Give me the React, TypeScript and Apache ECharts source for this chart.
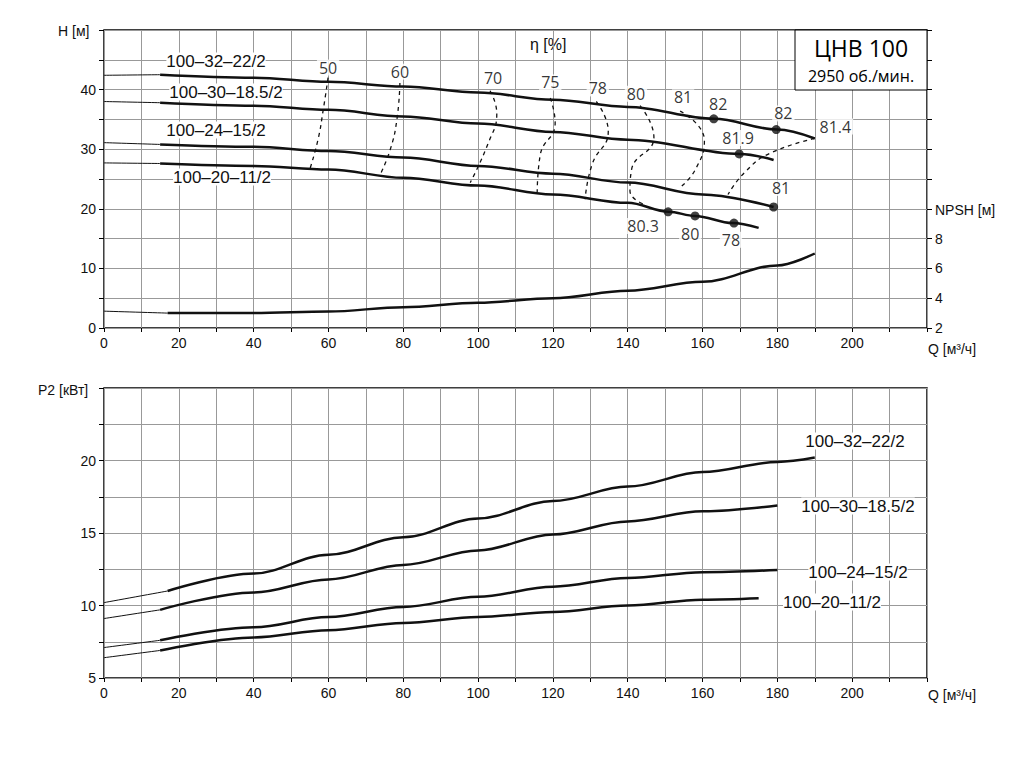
import * as echarts from "echarts";
import { useEffect, useRef } from "react";

// H(Q) curves, [Q, H]
const h22 = [[0, 42.4], [15, 42.5], [40, 42.0], [60, 41.3], [80, 40.5], [100, 39.5], [120, 38.3], [140, 37.1], [163, 35.1], [180, 33.3], [190, 31.8]];
const h18 = [[0, 38.0], [15, 37.8], [40, 37.3], [60, 36.6], [80, 35.5], [100, 34.3], [120, 32.9], [140, 31.6], [170, 29.2], [179, 28.2]];
const h15 = [[0, 31.1], [15, 30.8], [40, 30.4], [60, 29.7], [80, 28.6], [100, 27.2], [120, 25.9], [140, 24.4], [160, 22.4], [179, 20.3]];
const h11 = [[0, 27.7], [15, 27.6], [40, 27.2], [60, 26.6], [80, 25.2], [100, 23.9], [120, 22.4], [140, 21.0], [151, 19.5], [158, 18.8], [168, 17.6], [175, 16.8]];
const npsh = [[0, 3.13], [17, 3.0], [40, 3.0], [60, 3.1], [80, 3.4], [100, 3.7], [120, 4.0], [140, 4.5], [160, 5.1], [180, 6.2], [190, 7.0]];

// P2(Q) curves, [Q, P2]
const p22 = [[0, 10.2], [17, 11.0], [40, 12.2], [60, 13.5], [80, 14.7], [100, 16.0], [120, 17.2], [140, 18.2], [160, 19.2], [180, 19.9], [190, 20.2]];
const p18 = [[0, 9.1], [15, 9.7], [40, 10.9], [60, 11.8], [80, 12.8], [100, 13.8], [120, 14.9], [140, 15.8], [160, 16.5], [180, 16.9]];
const p15 = [[0, 7.1], [15, 7.6], [40, 8.5], [60, 9.2], [80, 9.9], [100, 10.6], [120, 11.3], [140, 11.9], [160, 12.3], [180, 12.45]];
const p11 = [[0, 6.4], [15, 6.9], [40, 7.8], [60, 8.3], [80, 8.8], [100, 9.2], [120, 9.55], [140, 10.0], [160, 10.4], [175, 10.5]];

// efficiency iso-lines, [Q, H]
const etaLines = [
  [[59.9, 42.0], [58.6, 36.6], [57.2, 31.6], [55.0, 26.6]],
  [[79.1, 41.1], [78.3, 35.0], [76.5, 29.9], [73.8, 25.7]],
  [[103.2, 39.8], [105.0, 36.0], [102.7, 31.0], [97.9, 24.4]],
  [[119.3, 38.6], [120.6, 34.4], [116.6, 29.0], [115.8, 22.8]],
  [[131.6, 38.0], [134.8, 33.0], [130.5, 27.5], [128.6, 21.6]],
  [[143.3, 37.3], [147.0, 32.0], [141.0, 26.5], [140.6, 23.0], [145.0, 20.6]],
  [[154.0, 36.4], [160.5, 31.5], [158.0, 26.5], [154.0, 23.6]],
  [[190.0, 31.8], [178.0, 29.3], [171.4, 26.2], [166.8, 22.4]],
];

// efficiency points on curves
const dots = [[163, 35.1], [179.7, 33.3], [169.8, 29.2], [179, 20.3], [150.8, 19.5], [158, 18.8], [168.4, 17.6]];

// efficiency labels [Q, H, text]
const etaLabels: [number, number, string][] = [
  [59.9, 43.7, "50"], [79.1, 43.0, "60"], [104, 42.0, "70"], [119.3, 41.2, "75"],
  [132, 40.2, "78"], [142.2, 39.3, "80"], [154.8, 38.7, "81"], [164.2, 37.6, "82"],
  [181.6, 36.0, "82"], [169.5, 31.9, "81.9"], [195.5, 33.8, "81.4"], [181, 23.5, "81"],
  [144.1, 17.1, "80.3"], [156.7, 15.8, "80"], [167.6, 14.8, "78"],
];

const FONT = "Liberation Sans";

const split = (d: number[][], s: number) => ({
  thin: d.filter((p) => p[0] <= s),
  thick: d.filter((p) => p[0] >= s),
});

const curve = (d: number[][], s: number, xi: number, yi: number) => {
  const { thin, thick } = split(d, s);
  const base = { type: "line", xAxisIndex: xi, yAxisIndex: yi, showSymbol: false, smooth: 0.35, smoothMonotone: "x", z: 3 };
  return [
    { ...base, data: thin, lineStyle: { color: "#111", width: 1 } },
    { ...base, data: thick, lineStyle: { color: "#111", width: 2.5 } },
  ];
};

const xAxis = (gi: number) => ({
  type: "value",
  gridIndex: gi,
  min: 0,
  max: 220,
  interval: 10,
  axisLine: { show: false },
  axisTick: { show: true, length: 4, lineStyle: { color: "#000" } },
  axisLabel: { fontFamily: FONT, fontSize: 14, color: "#111", formatter: (v: number) => (v % 20 === 0 && v <= 200 ? String(v) : "") },
  splitLine: { show: true, lineStyle: { color: "#999", width: 1 } },
});

export default function App() {
  const ref = useRef<HTMLDivElement>(null);

  useEffect(() => {
    const chart = echarts.init(ref.current!, null, { renderer: "svg" });
    const labelStyle = { fontFamily: FONT, fontSize: 17, fill: "#111", backgroundColor: "#fff" };
    chart.setOption({
      animation: false,
      grid: [
        { left: 104, right: 100, top: 30, height: 298, show: true, borderColor: "#000", borderWidth: 1.5 },
        { left: 104, right: 100, top: 388, height: 290, show: true, borderColor: "#000", borderWidth: 1.5 },
      ],
      xAxis: [xAxis(0), xAxis(1)],
      yAxis: [
        {
          type: "value", gridIndex: 0, min: 0, max: 50, interval: 5,
          axisLine: { show: false },
          axisTick: { show: true, length: 5, lineStyle: { color: "#000" } },
          axisLabel: { fontFamily: FONT, fontSize: 14, color: "#111", formatter: (v: number) => (v % 10 === 0 && v < 50 ? String(v) : "") },
          splitLine: { lineStyle: { color: "#999" } },
        },
        {
          type: "value", gridIndex: 0, position: "right", min: 2, max: 22, interval: 2,
          axisLine: { show: false },
          axisTick: { show: true, length: 5, lineStyle: { color: "#000" } },
          axisLabel: { fontFamily: FONT, fontSize: 14, color: "#111", formatter: (v: number) => (v <= 8 ? String(v) : "") },
          splitLine: { show: false },
        },
        {
          type: "value", gridIndex: 1, min: 5, max: 25, interval: 2.5,
          axisLine: { show: false },
          axisTick: { show: true, length: 5, lineStyle: { color: "#000" } },
          axisLabel: { fontFamily: FONT, fontSize: 14, color: "#111", formatter: (v: number) => (v % 5 === 0 && v < 25 ? String(v) : "") },
          splitLine: { lineStyle: { color: "#999" } },
        },
      ],
      series: [
        ...curve(h22, 15, 0, 0),
        ...curve(h18, 15, 0, 0),
        ...curve(h15, 15, 0, 0),
        ...curve(h11, 15, 0, 0),
        ...curve(npsh, 17, 0, 1),
        ...curve(p22, 17, 1, 2),
        ...curve(p18, 15, 1, 2),
        ...curve(p15, 15, 1, 2),
        ...curve(p11, 15, 1, 2),
        ...etaLines.map((d) => ({
          type: "line", xAxisIndex: 0, yAxisIndex: 0, data: d, smooth: true, showSymbol: false,
          lineStyle: { color: "#111", width: 1.3, type: [4, 4] }, z: 2,
        })),
        {
          type: "scatter", xAxisIndex: 0, yAxisIndex: 0, data: dots, symbolSize: 9,
          itemStyle: { color: "#111" }, z: 5,
        },
        {
          type: "scatter", xAxisIndex: 0, yAxisIndex: 0, symbolSize: 0, z: 6,
          data: etaLabels.map(([q, h, t]) => ({ value: [q, h], name: t })),
          label: {
            show: true, position: "inside", formatter: (p: any) => p.name,
            fontFamily: "Open Sans", fontSize: 16, color: "#000", backgroundColor: "#fff", padding: [0, 2],
          },
        },
      ],
      graphic: [
        { type: "text", left: 58, top: 24, style: { text: "H [м]", font: `14px ${FONT}`, fill: "#111" } },
        { type: "text", left: 38, top: 383, style: { text: "P2 [кВт]", font: `14px ${FONT}`, fill: "#111" } },
        { type: "text", left: 935, top: 203, style: { text: "NPSH [м]", font: `14px ${FONT}`, fill: "#111" } },
        { type: "text", left: 928, top: 342, style: { text: "Q [м³/ч]", font: `14px ${FONT}`, fill: "#111" } },
        { type: "text", left: 928, top: 688, style: { text: "Q [м³/ч]", font: `14px ${FONT}`, fill: "#111" } },
        { type: "text", left: 530, top: 36, style: { text: "η [%]", font: `16px ${FONT}`, fill: "#111" } },
        { type: "rect", shape: { x: 795, y: 30, width: 132, height: 60 }, style: { fill: "#fff", stroke: "#000", lineWidth: 1 }, z: 10 },
        { type: "text", x: 861, y: 48, z: 11, style: { text: "ЦНВ 100", font: `23px "Open Sans"`, fill: "#000", align: "center", verticalAlign: "middle" } },
        { type: "text", x: 861, y: 76, z: 11, style: { text: "2950 об./мин.", font: `16px "Open Sans"`, fill: "#000", align: "center", verticalAlign: "middle" } },
        { type: "text", x: 216, y: 61, z: 11, style: { ...labelStyle, text: "100–32–22/2", align: "center", verticalAlign: "middle" } },
        { type: "text", x: 226, y: 92, z: 11, style: { ...labelStyle, text: "100–30–18.5/2", align: "center", verticalAlign: "middle" } },
        { type: "text", x: 216, y: 130, z: 11, style: { ...labelStyle, text: "100–24–15/2", align: "center", verticalAlign: "middle" } },
        { type: "text", x: 222, y: 177, z: 11, style: { ...labelStyle, text: "100–20–11/2", align: "center", verticalAlign: "middle" } },
        { type: "text", x: 855, y: 441, z: 11, style: { ...labelStyle, text: "100–32–22/2", align: "center", verticalAlign: "middle" } },
        { type: "text", x: 858, y: 506, z: 11, style: { ...labelStyle, text: "100–30–18.5/2", align: "center", verticalAlign: "middle" } },
        { type: "text", x: 858, y: 572, z: 11, style: { ...labelStyle, text: "100–24–15/2", align: "center", verticalAlign: "middle" } },
        { type: "text", x: 832, y: 602, z: 11, style: { ...labelStyle, text: "100–20–11/2", align: "center", verticalAlign: "middle" } },
      ],
    });
    return () => chart.dispose();
  }, []);

  return <div ref={ref} style={{ position: "absolute", left: 0, top: 0, width: 1027, height: 766, background: "#fff" }} />;
}
